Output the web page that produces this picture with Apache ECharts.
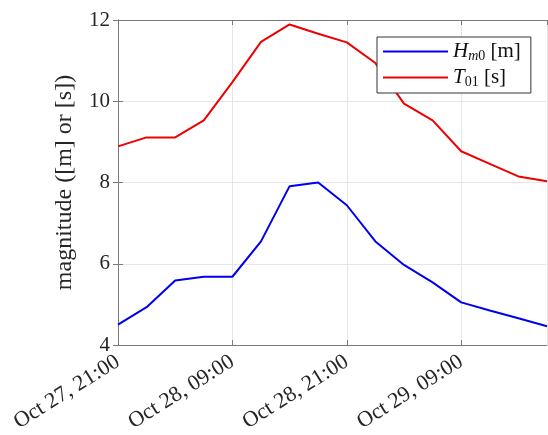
<!DOCTYPE html>
<html lang="en">
<head>
<meta charset="UTF-8">
<title>Hm0 / T01</title>
<script src="https://cdn.jsdelivr.net/npm/echarts@6/dist/echarts.min.js"></script>
<style>
  html, body { margin: 0; padding: 0; background: #fff; }
</style>
</head>
<body>
<div id="main" style="width:548px;height:435px;"></div>
<script>
// hours after Oct 27, 21:00 (3-hourly)
var hours = [0, 3, 6, 9, 12, 15, 18, 21, 24, 27, 30, 33, 36, 39, 42, 45];
var hm0 = [4.50, 4.93, 5.59, 5.68, 5.68, 6.55, 7.91, 8.00, 7.44, 6.55, 5.97, 5.54, 5.05, 4.85, 4.66, 4.46];
var t01 = [8.89, 9.11, 9.11, 9.53, 10.47, 11.46, 11.89, 11.66, 11.45, 10.94, 9.94, 9.53, 8.77, 8.46, 8.15, 8.03];
var tickLabels = ['Oct 27, 21:00', 'Oct 28, 09:00', 'Oct 28, 21:00', 'Oct 29, 09:00'];
var yTicks = [4, 6, 8, 10, 12];

var font = 'Liberation Serif';
var axisCol = '#7a7a7a';
var gridCol = '#e6e6e6';

function pairs(ys) {
    var out = [];
    for (var i = 0; i < hours.length; i++) out.push([hours[i], ys[i]]);
    return out;
}

var myChart = echarts.init(document.getElementById('main'));

var option = {
    animation: false,
    grid: { left: 118, right: 1, top: 20, bottom: 90, outerBoundsMode: 'none' },
    legend: {
        left: 377, top: 37,
        orient: 'vertical',
        backgroundColor: '#fff',
        borderColor: '#333',
        borderWidth: 1,
        borderRadius: 0,
        padding: [4, 10, 4, 6],
        icon: 'rect',
        itemWidth: 65,
        itemHeight: 2,
        itemGap: 4,
        data: ['Hm0', 'T01'],
        formatter: function (name) {
            return name === 'Hm0' ? '{i|H}{si|m}{s|0}{r| [m]}' : '{i|T}{s|01}{r| [s]}';
        },
        textStyle: {
            fontFamily: font,
            color: '#111',
            rich: {
                i: { fontFamily: font, fontStyle: 'italic', fontSize: 21, lineHeight: 23, color: '#111' },
                si: { fontFamily: font, fontStyle: 'italic', fontSize: 14, lineHeight: 12, verticalAlign: 'bottom', color: '#111' },
                s: { fontFamily: font, fontSize: 14, lineHeight: 12, verticalAlign: 'bottom', color: '#111' },
                r: { fontFamily: font, fontSize: 21, lineHeight: 23, color: '#111' }
            }
        }
    },
    xAxis: [
        {
            type: 'value', min: 0, max: 45, interval: 12,
            axisLine: { lineStyle: { color: axisCol } },
            axisTick: { inside: true, length: 5, lineStyle: { color: axisCol } },
            splitLine: { show: true, lineStyle: { color: gridCol } },
            axisLabel: {
                rotate: 32, margin: 15, showMaxLabel: false,
                fontFamily: font, fontSize: 22, color: '#262626',
                formatter: function (v) {
                    return v % 12 === 0 ? (tickLabels[v / 12] || '') : '';
                }
            }
        },
        {
            type: 'value', min: 0, max: 45, interval: 12, position: 'top',
            axisLine: { lineStyle: { color: axisCol } },
            axisTick: { inside: true, length: 5, lineStyle: { color: axisCol } },
            axisLabel: { show: false },
            splitLine: { show: false }
        }
    ],
    yAxis: [
        {
            type: 'value', min: yTicks[0], max: yTicks[yTicks.length - 1], interval: 2,
            name: 'magnitude ([m] or [s])',
            nameLocation: 'middle', nameGap: 41,
            nameTextStyle: { fontFamily: font, fontSize: 24, color: '#262626' },
            axisLine: { show: true, lineStyle: { color: axisCol } },
            axisTick: { show: true, inside: true, length: 5, lineStyle: { color: axisCol } },
            splitLine: { show: true, lineStyle: { color: gridCol } },
            axisLabel: { fontFamily: font, fontSize: 21, color: '#262626', margin: 8 }
        },
        {
            type: 'value', min: yTicks[0], max: yTicks[yTicks.length - 1], interval: 2, position: 'right',
            axisLine: { show: true, lineStyle: { color: axisCol } },
            axisTick: { show: true, inside: true, length: 5, lineStyle: { color: axisCol } },
            axisLabel: { show: false },
            splitLine: { show: false }
        }
    ],
    series: [
        {
            name: 'Hm0', type: 'line', data: pairs(hm0),
            symbol: 'none', color: '#0000ee',
            lineStyle: { width: 2, color: '#0000ee' }
        },
        {
            name: 'T01', type: 'line', data: pairs(t01),
            symbol: 'none', color: '#ee0000',
            lineStyle: { width: 2, color: '#ee0000' }
        }
    ]
};

myChart.setOption(option);
</script>
</body>
</html>
